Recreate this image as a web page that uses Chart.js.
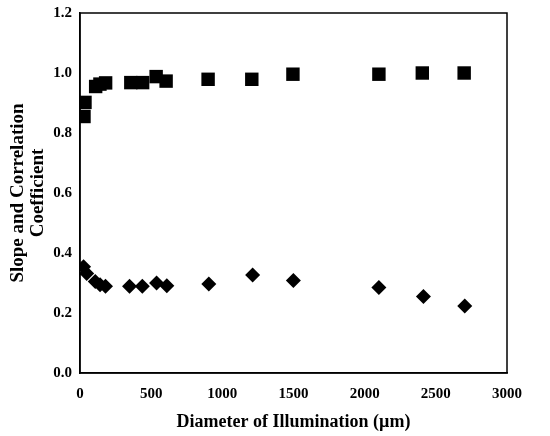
<!DOCTYPE html>
<html>
<head>
<meta charset="utf-8">
<script src="https://cdn.jsdelivr.net/npm/chart.js@4.4.1/dist/chart.umd.min.js"></script>
<style>
  html, body { margin: 0; padding: 0; background: #fff; }
  #wrap { width: 550px; height: 436px; }
</style>
</head>
<body>
<div id="wrap"><canvas id="slopeChart" width="550" height="436"></canvas></div>
<script>
// diameter of illumination (um)
const diameters = [28, 35, 110, 140, 180, 357, 440, 535, 605, 900, 1207, 1496, 2100, 2405, 2699];
// correlation coefficient (squares)
const correlation = [0.855, 0.902, 0.955, 0.963, 0.967, 0.968, 0.968, 0.988, 0.973, 0.979, 0.979, 0.996, 0.996, 1.0, 1.0];
// slope (diamonds)
const slopeX = [25, 47, 107, 141, 179, 348, 438, 538, 610, 905, 1213, 1499, 2100, 2413, 2703];
const slope = [0.354, 0.332, 0.305, 0.294, 0.289, 0.289, 0.289, 0.300, 0.291, 0.297, 0.327, 0.308, 0.285, 0.255, 0.223];

const xTicks = [0, 500, 1000, 1500, 2000, 2500, 3000];
const yTicks = [0, 0.2, 0.4, 0.6, 0.8, 1.0, 1.2];

const serif = "'Liberation Serif', 'Times New Roman', serif";

// draws the full box around the plot area
const frame = {
  id: 'frame',
  afterDraw(chart) {
    const a = chart.chartArea;
    const c = chart.ctx;
    c.save();
    c.strokeStyle = '#000';
    c.lineWidth = 1.5;
    c.strokeRect(a.left, a.top, a.right - a.left, a.bottom - a.top);
    c.restore();
  }
};

new Chart(document.getElementById('slopeChart'), {
  type: 'scatter',
  data: {
    datasets: [{
      label: 'Correlation Coefficient',
      data: diameters.map((d, i) => ({ x: d, y: correlation[i] })),
      pointStyle: 'rect',
      pointRadius: 9.5,
      pointHoverRadius: 9.5,
      backgroundColor: '#000',
      borderColor: '#000',
      borderWidth: 0
    }, {
      label: 'Slope',
      data: slopeX.map((d, i) => ({ x: d, y: slope[i] })),
      pointStyle: 'rectRot',
      pointRadius: 7.5,
      pointHoverRadius: 7.5,
      backgroundColor: '#000',
      borderColor: '#000',
      borderWidth: 0
    }]
  },
  options: {
    responsive: false,
    animation: false,
    layout: { padding: { top: 13, right: 43, left: 0, bottom: 0 } },
    plugins: {
      legend: { display: false },
      tooltip: { enabled: false }
    },
    scales: {
      x: {
        type: 'linear',
        min: 0,
        max: 3000,
        afterBuildTicks: (axis) => { axis.ticks = xTicks.map(v => ({ value: v })); },
        grid: { display: false, drawOnChartArea: false, drawTicks: true, tickLength: 5, color: '#000' },
        border: { display: true, color: '#000', width: 1.5 },
        ticks: {
          color: '#000',
          font: { family: serif, size: 15, weight: 'bold' },
          padding: 7,
          maxRotation: 0,
          callback: (v) => String(v)
        },
        title: {
          display: true,
          text: 'Diameter of Illumination (\u00b5m)',
          color: '#000',
          font: { family: serif, size: 18, weight: 'bold' },
          padding: { top: 2, bottom: 3 }
        },
        afterFit: (axis) => { axis.height = 63; }
      },
      y: {
        type: 'linear',
        min: 0,
        max: 1.2,
        afterBuildTicks: (axis) => { axis.ticks = yTicks.map(v => ({ value: v })); },
        grid: { display: false, drawOnChartArea: false, drawTicks: true, tickLength: 5, color: '#000' },
        border: { display: true, color: '#000', width: 1.5 },
        ticks: {
          color: '#000',
          font: { family: serif, size: 15, weight: 'bold' },
          padding: 3,
          callback: (v) => Number(v).toFixed(1)
        },
        title: {
          display: true,
          text: ['Slope and Correlation', 'Coefficient'],
          color: '#000',
          font: { family: serif, size: 19, weight: 'bold', lineHeight: 1.05 },
          padding: { top: 8, bottom: 4 }
        },
        afterFit: (axis) => { axis.width = 80; }
      }
    }
  },
  plugins: [frame]
});
</script>
</body>
</html>
